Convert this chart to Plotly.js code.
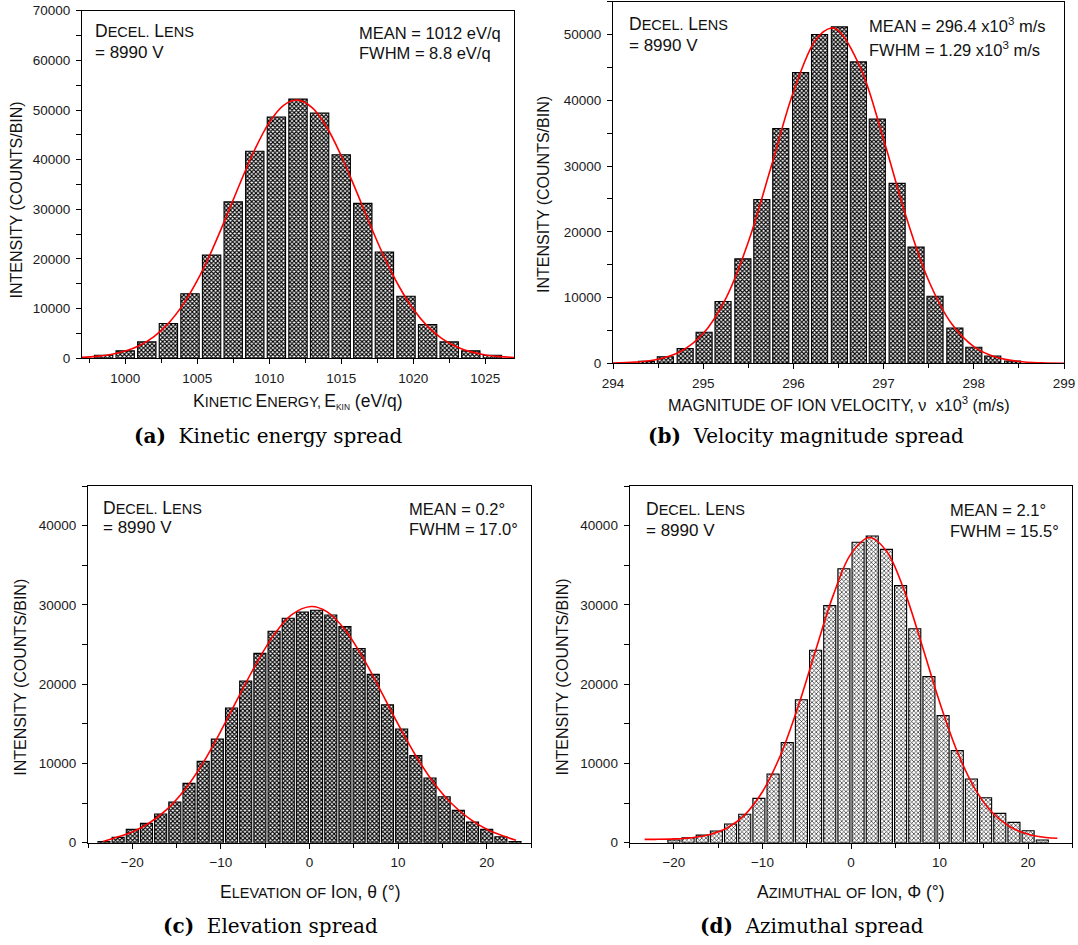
<!DOCTYPE html>
<html>
<head>
<meta charset="utf-8">
<script src="https://cdn.plot.ly/plotly-3.0.1.min.js"></script>
<style>
  html, body { margin: 0; padding: 0; background: #fff; }
  #chart { width: 1078px; height: 945px; }
</style>
</head>
<body>
<div id="chart"></div>
<script>
// ---------------- data ----------------
// (a) kinetic energy spread
const energyBins = [998.5, 1000, 1001.5, 1003, 1004.5, 1006, 1007.5, 1009, 1010.5, 1012, 1013.5, 1015, 1016.5, 1018, 1019.5, 1021, 1022.5, 1024, 1025.5];
const energyCounts = [600, 1500, 3300, 7000, 13000, 20800, 31500, 41700, 48600, 52200, 49400, 41000, 31200, 21400, 12500, 6800, 3300, 1500, 600];
const energyFitX = [997, 998, 999, 1000, 1001, 1002, 1003, 1004, 1005, 1006, 1007, 1008, 1009, 1010, 1011, 1012, 1013, 1014, 1015, 1016, 1017, 1018, 1019, 1020, 1021, 1022, 1023, 1024, 1025, 1026, 1027];
const energyFitY = [190, 395, 780, 1455, 2590, 4380, 7040, 10750, 15630, 21590, 28370, 35410, 42050, 47470, 50950, 52000, 50430, 46520, 40790, 34010, 26960, 20320, 14560, 9920, 6430, 3960, 2320, 1290, 680, 344, 164];

// (b) velocity magnitude spread (x10^3 m/s)
const velocityBins = [294.37, 294.58, 294.80, 295.01, 295.22, 295.44, 295.65, 295.86, 296.08, 296.29, 296.51, 296.72, 296.93, 297.15, 297.36, 297.57, 297.79, 298.00, 298.21, 298.43];
const velocityCounts = [300, 1000, 2230, 4720, 9390, 15890, 24920, 35690, 44210, 50000, 51170, 45840, 37160, 27360, 17670, 10200, 5380, 2440, 1120, 350];
const velocityFitX = [294, 294.25, 294.5, 294.75, 295, 295.25, 295.5, 295.75, 296, 296.25, 296.42, 296.5, 296.75, 297, 297.25, 297.5, 297.75, 298, 298.25, 298.5, 298.75, 299];
const velocityFitY = [45, 177, 608, 1787, 4520, 9840, 18440, 29730, 41260, 49260, 51000, 50610, 44740, 34040, 22290, 12550, 6080, 2540, 912, 281, 75, 17];

// (c) elevation spread (degrees)
const elevationBins = [-23.2, -21.6, -20, -18.4, -16.8, -15.2, -13.6, -12, -10.4, -8.8, -7.2, -5.6, -4, -2.4, -0.8, 0.8, 2.4, 4, 5.6, 7.2, 8.8, 10.4, 12, 13.6, 15.2, 16.8, 18.4, 20, 21.6, 23.2];
const elevationCounts = [150, 670, 1680, 2440, 3620, 5130, 7490, 10260, 13080, 16990, 20400, 23890, 26670, 28310, 29110, 29320, 28730, 27260, 24480, 21240, 17410, 14340, 10980, 8160, 5800, 4080, 2610, 1680, 760, 150];
const elevationFitX = [-23.3, -22, -20, -18, -16, -14, -12, -10, -8, -6, -4, -2, 0.2, 2, 4, 6, 8, 10, 12, 14, 16, 18, 20, 22, 23.3];
const elevationFitY = [150, 600, 1350, 2550, 4300, 6800, 10100, 14100, 18400, 22600, 26250, 28780, 29800, 29120, 26870, 23410, 19260, 14960, 10970, 7600, 4970, 3070, 1700, 800, 300];

// (d) azimuthal spread (degrees)
const azimuthBins = [-20, -18.4, -16.8, -15.2, -13.6, -12, -10.4, -8.8, -7.2, -5.6, -4, -2.4, -0.8, 0.8, 2.4, 4, 5.6, 7.2, 8.8, 10.4, 12, 13.6, 15.2, 16.8, 18.4, 20, 21.6];
const azimuthCounts = [340, 630, 950, 1470, 2350, 3580, 5590, 8660, 12620, 18040, 24270, 29910, 34570, 37900, 38700, 37010, 32430, 27000, 20950, 16030, 11610, 8030, 5680, 3700, 2570, 1510, 340];
const azimuthFitX = [-23.3, -22, -20, -18, -16, -14, -12, -10, -8, -6, -4, -2, 0, 2.1, 4, 6, 8, 10, 12, 14, 16, 18, 20, 22, 23.3];
const azimuthFitY = [420, 425, 480, 635, 1015, 1855, 3515, 6425, 10940, 17080, 24250, 31230, 36440, 38500, 36810, 31860, 24980, 17760, 11490, 6800, 3740, 1980, 1070, 660, 560];

// texts
const yTitle = 'INTENSITY (COUNTS/BIN)';
const lensLabel = ['DECEL. LENS', '= 8990 V'];
const statsA = ['MEAN = 1012 eV/q', 'FWHM = 8.8 eV/q'];
const statsB = ['MEAN = 296.4 x10<sup>3</sup> m/s', 'FWHM = 1.29 x10<sup>3</sup> m/s'];
const statsC = ['MEAN = 0.2°', 'FWHM = 17.0°'];
const statsD = ['MEAN = 2.1°', 'FWHM = 15.5°'];
const captions = [['(a)', 'Kinetic energy spread'], ['(b)', 'Velocity magnitude spread'], ['(c)', 'Elevation spread'], ['(d)', 'Azimuthal spread']];

// ---------------- helpers ----------------
const W = 1078, H = 945;
const px = x => x / W;
const py = y => 1 - y / H;
const SANS = 'Liberation Sans, Arial, sans-serif';
const SERIF = 'DejaVu Serif, serif';
const BIG = 17.5, SMALL = 14.5;
const big = s => `<span style="font-size:${BIG}px">${s}</span>`;
const small = s => `<span style="font-size:${SMALL}px">${s}</span>`;
const sc = (b, s) => big(b) + small(s);

const barMarker = (fg, sol) => ({
  color: '#ffffff',
  line: { color: '#000', width: 1.1 },
  pattern: { shape: 'x', size: 3, solidity: sol, fgcolor: fg, bgcolor: '#ffffff', fillmode: 'replace' }
});
const fitLine = { color: '#ff0000', width: 1.6, shape: 'spline', smoothing: 1 };

const data = [
  { type: 'bar', x: energyBins, y: energyCounts, xaxis: 'x', yaxis: 'y', marker: barMarker('#000', 0.6), hoverinfo: 'skip' },
  { type: 'scatter', mode: 'lines', x: energyFitX, y: energyFitY, xaxis: 'x', yaxis: 'y', line: fitLine, hoverinfo: 'skip' },
  { type: 'bar', x: velocityBins, y: velocityCounts, xaxis: 'x2', yaxis: 'y2', marker: barMarker('#000', 0.6), hoverinfo: 'skip' },
  { type: 'scatter', mode: 'lines', x: velocityFitX, y: velocityFitY, xaxis: 'x2', yaxis: 'y2', line: fitLine, hoverinfo: 'skip' },
  { type: 'bar', x: elevationBins, y: elevationCounts, xaxis: 'x3', yaxis: 'y3', marker: barMarker('#000', 0.6), hoverinfo: 'skip' },
  { type: 'scatter', mode: 'lines', x: elevationFitX, y: elevationFitY, xaxis: 'x3', yaxis: 'y3', line: fitLine, hoverinfo: 'skip' },
  { type: 'bar', x: azimuthBins, y: azimuthCounts, xaxis: 'x4', yaxis: 'y4', marker: barMarker('#222', 0.4), hoverinfo: 'skip' },
  { type: 'scatter', mode: 'lines', x: azimuthFitX, y: azimuthFitY, xaxis: 'x4', yaxis: 'y4', line: fitLine, hoverinfo: 'skip' }
];

const tickFont = { family: SANS, size: 13.5, color: '#1a1a1a' };
function xAx(domain, range, tick0, dtick, minorD, anchor) {
  return {
    domain, range, anchor, tick0, dtick,
    showline: true, linecolor: '#000', linewidth: 1, mirror: true,
    ticks: 'outside', ticklen: 5, tickwidth: 1, tickcolor: '#000',
    minor: { tick0, dtick: minorD, ticks: 'outside', ticklen: 4, tickwidth: 1, tickcolor: '#000' },
    tickfont: tickFont, ticklabelstandoff: 2,
    showgrid: false, zeroline: false, fixedrange: true
  };
}
function yAx(domain, range, anchor) {
  return {
    domain, range, anchor, tick0: 0, dtick: 10000, tickformat: 'd',
    showline: true, linecolor: '#000', linewidth: 1, mirror: true,
    ticks: 'outside', ticklen: 5, tickwidth: 1, tickcolor: '#000',
    minor: { tick0: 0, dtick: 5000, ticks: 'outside', ticklen: 5, tickwidth: 1, tickcolor: '#000' },
    tickfont: tickFont, ticklabelstandoff: 3,
    showgrid: false, zeroline: false, fixedrange: true
  };
}
function topAx(over, anchor, range, tick0, dtick) {
  return {
    overlaying: over, anchor, side: 'top', range, tick0, dtick,
    ticks: 'inside', ticklen: 5, tickwidth: 1, tickcolor: '#000',
    showticklabels: false, showline: false, showgrid: false, zeroline: false, fixedrange: true
  };
}
function rightAx(over, anchor, range) {
  return {
    overlaying: over, anchor, side: 'right', range, tick0: 0, dtick: 5000,
    ticks: 'inside', ticklen: 5, tickwidth: 1, tickcolor: '#000',
    showticklabels: false, showline: false, showgrid: false, zeroline: false, fixedrange: true
  };
}

const dA = { x: [px(82), px(514)], y: [py(358.3), py(10.7)] };
const dB = { x: [px(613), px(1064)], y: [py(363.3), py(1.7)] };
const dC = { x: [px(88), px(531)], y: [py(842.7), py(486)] };
const dD = { x: [px(629.6), px(1072.4)], y: [py(842.7), py(486)] };

const rA = [997, 1027], rB = [294, 299], rC = [-25, 25], rD = [-25, 25];
const yrA = [0, 70000], yrB = [0, 55000], yrC = [0, 45000], yrD = [0, 45000];

const annotations = [];
function ann(text, x, y, o = {}) {
  annotations.push(Object.assign({
    text, x: px(x), y: py(y), xref: 'paper', yref: 'paper', showarrow: false,
    xanchor: 'left', yanchor: 'middle', font: { family: SANS, size: 17, color: '#111' }
  }, o));
}
const lensRich = sc('D', 'ECEL.') + ' ' + sc('L', 'ENS');

// lens / stats labels
[[93, 31.5, 52.5, 357, 33, 53, statsA], [627, 24, 45, 867, 25, 49, statsB],
 [101, 507.5, 527.5, 406.7, 509, 529, statsC], [643.6, 509, 530, 948.3, 510, 531, statsD]]
.forEach(([lx, ly1, ly2, sx, sy1, sy2, st]) => {
  ann(lensRich, lx, ly1);
  ann(lensLabel[1], lx, ly2);
  ann(st[0], sx, sy1, { font: { family: SANS, size: 16.5, color: '#111' } });
  ann(st[1], sx, sy2, { font: { family: SANS, size: 16.5, color: '#111' } });
});

// y titles
[[16.4, 200], [544, 195], [19.8, 677], [561.5, 677]].forEach(([x, y]) =>
  ann(yTitle, x, y, { xanchor: 'center', textangle: -90, font: { family: SANS, size: 16, color: '#111' } }));

// x titles
const xTitleA = sc('K', 'INETIC') + ' ' + sc('E', 'NERGY,') + ' ' + big('E') + '<sub>KIN</sub>' + big(' (eV/q)');
const xTitleB = 'MAGNITUDE OF ION VELOCITY, ν  x10<sup>3</sup> (m/s)';
const xTitleC = sc('E', 'LEVATION') + ' ' + small('OF') + ' ' + sc('I', 'ON') + big(', θ (°)');
const xTitleD = sc('A', 'ZIMUTHAL') + ' ' + small('OF') + ' ' + sc('I', 'ON') + big(', Φ (°)');
ann(xTitleA, 297.5, 401, { xanchor: 'center', font: { family: SANS, size: 12, color: '#111' } });
ann(xTitleB, 838.5, 404, { xanchor: 'center', font: { family: SANS, size: 16.3, color: '#111' } });
ann(xTitleC, 309.5, 892, { xanchor: 'center' });
ann(xTitleD, 851, 892, { xanchor: 'center' });

// captions
[[268, 436], [806, 436], [270, 926], [812, 926]].forEach(([x, y], i) =>
  ann('<b>' + captions[i][0] + '</b>  ' + captions[i][1], x, y,
      { xanchor: 'center', font: { family: SERIF, size: 20, color: '#000' } }));

const layout = {
  width: W, height: H,
  margin: { l: 0, r: 0, t: 0, b: 0 },
  paper_bgcolor: '#fff', plot_bgcolor: 'rgba(0,0,0,0)',
  showlegend: false, bargap: 0.15,
  font: { family: SANS, color: '#111' },
  xaxis: xAx(dA.x, rA, 1000, 5, 2.5, 'y'),
  yaxis: yAx(dA.y, yrA, 'x'),
  xaxis2: xAx(dB.x, rB, 294, 1, 0.5, 'y2'),
  yaxis2: yAx(dB.y, yrB, 'x2'),
  xaxis3: xAx(dC.x, rC, 0, 10, 5, 'y3'),
  yaxis3: yAx(dC.y, yrC, 'x3'),
  xaxis4: xAx(dD.x, rD, 0, 10, 5, 'y4'),
  yaxis4: yAx(dD.y, yrD, 'x4'),
  xaxis5: topAx('x', 'y', rA, 997, 2.8),
  yaxis5: rightAx('y', 'x', yrA),
  xaxis6: topAx('x2', 'y2', rB, 294, 0.5),
  yaxis6: rightAx('y2', 'x2', yrB),
  xaxis7: topAx('x3', 'y3', rC, -25, 5),
  yaxis7: rightAx('y3', 'x3', yrC),
  xaxis8: topAx('x4', 'y4', rD, -25, 5),
  yaxis8: rightAx('y4', 'x4', yrD),
  annotations
};

Plotly.newPlot('chart', data, layout, { staticPlot: true, displayModeBar: false });
</script>
</body>
</html>
